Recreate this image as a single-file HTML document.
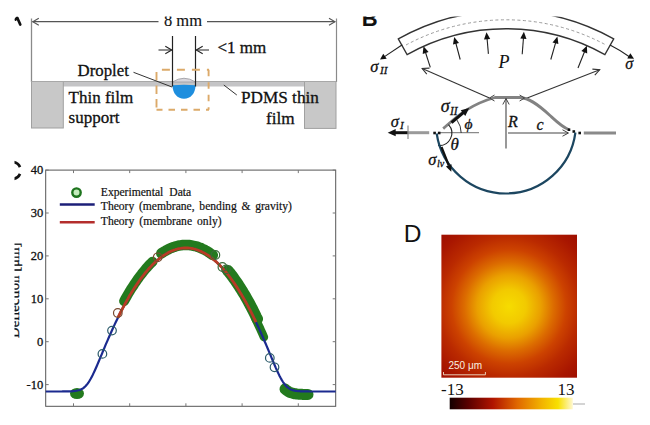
<!DOCTYPE html>
<html><head><meta charset="utf-8"><style>
html,body{margin:0;padding:0;background:#fff;}
body{width:650px;height:425px;overflow:hidden;font-family:"Liberation Serif",serif;}
svg{display:block;}
</style></head><body>
<svg width="650" height="425" viewBox="0 0 650 425">
<rect width="650" height="425" fill="#fff"/>
<path d="M15.4,19.6 L17.2,17.6 L20.3,24.6" fill="none" stroke="#111" stroke-width="2.6" stroke-linecap="round" stroke-linejoin="round"/>
<line x1="31.5" y1="18.5" x2="31.5" y2="82.0" stroke="#8a8a8a" stroke-width="1.3" />
<line x1="336.5" y1="18.5" x2="336.5" y2="82.0" stroke="#8a8a8a" stroke-width="1.2" />
<line x1="32.5" y1="21.7" x2="158.5" y2="21.7" stroke="#555" stroke-width="1.2" />
<line x1="207.0" y1="21.7" x2="335.0" y2="21.7" stroke="#555" stroke-width="1.2" />
<polyline points="38.8,18.2 32.8,21.7 38.8,25.2" fill="none" stroke="#555" stroke-width="1.1"/>
<polyline points="329.0,25.2 335.0,21.7 329.0,18.2" fill="none" stroke="#555" stroke-width="1.1"/>
<text x="183" y="25.8" font-family="'Liberation Serif', serif" font-size="16.5" text-anchor="middle" fill="#111" stroke="#111" stroke-width="0.15">8 mm</text>
<rect x="31.5" y="81.5" width="304.5" height="5" fill="#c4c4c6"/>
<rect x="31.5" y="81.5" width="31.8" height="46.5" fill="#c8c8c8" stroke="#a0a0a0" stroke-width="1"/>
<rect x="304.5" y="81.5" width="31.5" height="46.9" fill="#c8c8c8" stroke="#a0a0a0" stroke-width="1"/>
<line x1="31.5" y1="81.5" x2="336.0" y2="81.5" stroke="#a8a8a8" stroke-width="1" />
<path d="M172.5,82 Q184,74.5 195.5,82 Z" fill="#d8d6dc" stroke="#a0a0a6" stroke-width="0.9"/>
<path d="M172.5,85.3 Q184,84.3 195.5,85.3 C195.5,93.5 190.5,98.8 184,98.8 C177.5,98.8 172.5,93.5 172.5,85.3 Z" fill="#1e8ede"/>
<line x1="172.5" y1="36.0" x2="172.5" y2="86.5" stroke="#222" stroke-width="1.2" />
<line x1="195.5" y1="36.0" x2="195.5" y2="86.5" stroke="#222" stroke-width="1.2" />
<line x1="158.5" y1="50.0" x2="171.5" y2="50.0" stroke="#222" stroke-width="1.0" />
<polyline points="165.3,53.8 171.8,50.0 165.3,46.2" fill="none" stroke="#222" stroke-width="1.1"/>
<line x1="209.0" y1="50.0" x2="196.5" y2="50.0" stroke="#222" stroke-width="1.0" />
<polyline points="202.7,46.2 196.2,50.0 202.7,53.8" fill="none" stroke="#222" stroke-width="1.1"/>
<text x="217.5" y="53.2" font-family="'Liberation Serif', serif" font-size="17" fill="#111" stroke="#111" stroke-width="0.3">&lt;1 mm</text>
<line x1="156.5" y1="69.7" x2="209" y2="69.7" stroke="#dcaa6a" stroke-width="1.9" stroke-dasharray="8 7" stroke-dashoffset="9.6"/>
<line x1="208.6" y1="69.7" x2="208.6" y2="109.8" stroke="#dcaa6a" stroke-width="1.9" stroke-dasharray="6.5 6" stroke-dashoffset="0"/>
<line x1="156.5" y1="109.8" x2="209" y2="109.8" stroke="#dcaa6a" stroke-width="1.9" stroke-dasharray="6.5 6" stroke-dashoffset="0.5"/>
<line x1="156.5" y1="69.7" x2="156.5" y2="110.7" stroke="#dcaa6a" stroke-width="1.9" stroke-dasharray="8.5 5" stroke-dashoffset="11.2"/>
<line x1="133.5" y1="72.3" x2="172.0" y2="87.0" stroke="#333" stroke-width="1.0" />
<text x="77.6" y="75.8" font-family="'Liberation Serif', serif" font-size="16.8" fill="#111" stroke="#111" stroke-width="0.3">Droplet</text>
<text x="68.6" y="103.3" font-family="'Liberation Serif', serif" font-size="17" fill="#111" stroke="#111" stroke-width="0.3">Thin film</text>
<text x="68.6" y="123.3" font-family="'Liberation Serif', serif" font-size="17" fill="#111" stroke="#111" stroke-width="0.3">support</text>
<line x1="223.8" y1="85.0" x2="236.8" y2="95.0" stroke="#333" stroke-width="1.0" />
<text x="241" y="103.3" font-family="'Liberation Serif', serif" font-size="17.2" fill="#111" stroke="#111" stroke-width="0.3">PDMS thin</text>
<text x="266" y="124.3" font-family="'Liberation Serif', serif" font-size="17.2" fill="#111" stroke="#111" stroke-width="0.3">film</text>
<text x="361.8" y="26" font-family="'Liberation Sans', sans-serif" font-weight="bold" font-size="22" fill="#111">B</text>
<path d="M398.3,38.9 A220,220 0 0 1 613.7,38.9 L604.9,54.6 A202,202 0 0 0 407.1,54.6 Z" fill="none" stroke="#333" stroke-width="1.3"/>
<path d="M406.0,45.0 A211,211 0 0 1 606.0,45.0" fill="none" stroke="#9a9a9a" stroke-width="1" stroke-dasharray="3 2.5"/>
<line x1="402.3" y1="44.8" x2="383.0" y2="57.6" stroke="#222" stroke-width="1.1" />
<polygon points="380.0,59.6 383.3,53.8 386.7,58.8" fill="#111"/>
<path d="M610,45 Q620,50 630.5,57.5" fill="none" stroke="#222" stroke-width="1.1"/>
<polygon points="634.0,58.8 627.3,58.4 630.3,53.2" fill="#111"/>
<text x="370.3" y="71.9" font-family="'Liberation Serif', serif" font-style="italic" font-size="16.5" fill="#111" stroke="#111" stroke-width="0.3">σ</text>
<text x="380" y="74.4" font-family="'Liberation Serif', serif" font-style="italic" font-size="11" fill="#111" stroke="#111" stroke-width="0.3">II</text>
<text x="625.3" y="69.2" font-family="'Liberation Serif', serif" font-style="italic" font-size="16" fill="#111" stroke="#111" stroke-width="0.3">σ</text>
<line x1="430.3" y1="67.3" x2="424.9" y2="50.5" stroke="#222" stroke-width="1.1" />
<polygon points="423.5,46.3 428.6,52.0 422.7,53.9" fill="#111"/>
<line x1="460.2" y1="59.5" x2="455.4" y2="41.5" stroke="#222" stroke-width="1.1" />
<polygon points="454.2,37.0 459.0,43.0 453.0,44.6" fill="#111"/>
<line x1="488.4" y1="53.9" x2="486.9" y2="36.5" stroke="#222" stroke-width="1.1" />
<polygon points="486.5,32.2 490.2,38.9 484.0,39.4" fill="#111"/>
<line x1="522.2" y1="54.2" x2="523.6" y2="36.2" stroke="#222" stroke-width="1.1" />
<polygon points="523.9,31.7 526.5,38.9 520.3,38.4" fill="#111"/>
<line x1="550.8" y1="59.5" x2="556.1" y2="41.1" stroke="#222" stroke-width="1.1" />
<polygon points="557.4,36.5 558.4,44.1 552.5,42.4" fill="#111"/>
<line x1="578.0" y1="68.0" x2="585.1" y2="50.2" stroke="#222" stroke-width="1.1" />
<polygon points="586.9,45.8 587.2,53.5 581.4,51.1" fill="#111"/>
<text x="498.5" y="67.8" font-family="'Liberation Serif', serif" font-style="italic" font-size="18" fill="#111" stroke="#111" stroke-width="0.1">P</text>
<line x1="422.2" y1="68.5" x2="489.5" y2="98.0" stroke="#333" stroke-width="1.1" />
<polyline points="429.5,68.1 422.2,68.5 426.8,74.1" fill="none" stroke="#333" stroke-width="1.1"/>
<line x1="599.7" y1="69.8" x2="524.6" y2="99.0" stroke="#333" stroke-width="1.1" />
<polyline points="594.8,75.2 599.7,69.8 592.4,69.1" fill="none" stroke="#333" stroke-width="1.1"/>
<path d="M443.2,128.6 C455,118.5 468,105 495,97.5 L520,97.5 C528,98 536,102.5 550,115.5 C555,120.1 562,127 569,129.7" fill="none" stroke="#828282" stroke-width="2.8"/>
<polyline points="494.5,95.0 489.5,98.0 494.5,101.0" fill="none" stroke="#444" stroke-width="1"/>
<polyline points="519.6,101.0 524.6,98.0 519.6,95.0" fill="none" stroke="#444" stroke-width="1"/>
<line x1="407.7" y1="132.7" x2="429.2" y2="132.7" stroke="#9a9a9a" stroke-width="3" />
<line x1="440.0" y1="132.7" x2="479.0" y2="132.7" stroke="#8a8a8a" stroke-width="1.3" />
<line x1="583.8" y1="133.0" x2="616.0" y2="133.0" stroke="#8a8a8a" stroke-width="3" />
<rect x="433.3" y="131.7" width="2.6" height="2.6" fill="#111"/>
<rect x="437.9" y="131.7" width="2.6" height="2.6" fill="#111"/>
<rect x="567.7" y="128.4" width="2.6" height="2.6" fill="#111"/>
<rect x="572.5" y="130.2" width="2.6" height="2.6" fill="#111"/>
<rect x="578.4" y="131.7" width="2.6" height="2.6" fill="#111"/>
<line x1="407.7" y1="132.7" x2="394.0" y2="132.7" stroke="#111" stroke-width="3" />
<polygon points="387.7,132.7 395.7,129.1 395.7,136.3" fill="#111"/>
<line x1="408.0" y1="125.5" x2="408.0" y2="139.0" stroke="#777" stroke-width="1" />
<text x="390.8" y="126.8" font-family="'Liberation Serif', serif" font-style="italic" font-size="16.5" fill="#111" stroke="#111" stroke-width="0.3">σ</text>
<text x="400" y="128.5" font-family="'Liberation Serif', serif" font-style="italic" font-size="11" fill="#111" stroke="#111" stroke-width="0.3">I</text>
<line x1="451.5" y1="122.7" x2="464.0" y2="112.2" stroke="#111" stroke-width="3" />
<polygon points="469.2,108.0 465.3,115.9 460.7,110.3" fill="#111"/>
<text x="440.8" y="112" font-family="'Liberation Serif', serif" font-style="italic" font-size="18" fill="#111" stroke="#111" stroke-width="0.3">σ</text>
<text x="450" y="115" font-family="'Liberation Serif', serif" font-style="italic" font-size="11.5" fill="#111" stroke="#111" stroke-width="0.3">II</text>
<path d="M457,120.1 A 22 22 0 0 1 461.2,133" fill="none" stroke="#333" stroke-width="1"/>
<text x="464.5" y="128.5" font-family="'Liberation Serif', serif" font-style="italic" font-size="15.5" fill="#111" stroke="#111" stroke-width="0.3">ϕ</text>
<path d="M448.5,124.6 A 12.5 12.5 0 0 1 438.1,145.5" fill="none" stroke="#222" stroke-width="1.1"/>
<text x="450.5" y="150" font-family="'Liberation Serif', serif" font-style="italic" font-size="17" fill="#111" stroke="#111" stroke-width="0.3">θ</text>
<line x1="506.0" y1="98.5" x2="506.0" y2="148.4" stroke="#444" stroke-width="1.1" />
<polyline points="509.2,104.5 506.0,98.5 502.8,104.5" fill="none" stroke="#444" stroke-width="1"/>
<text x="508" y="126.5" font-family="'Liberation Serif', serif" font-style="italic" font-size="16" fill="#111" stroke="#111" stroke-width="0.3">R</text>
<line x1="508.0" y1="133.0" x2="568.0" y2="133.0" stroke="#444" stroke-width="1.1" />
<polyline points="562.5,136.2 568.5,133.0 562.5,129.8" fill="none" stroke="#444" stroke-width="1"/>
<text x="536.5" y="130" font-family="'Liberation Serif', serif" font-style="italic" font-size="16" fill="#111" stroke="#111" stroke-width="0.3">c</text>
<path d="M436.7,133.5 A70,70 0 0 0 575.4,132.5" fill="none" stroke="#1c4660" stroke-width="2.2"/>
<line x1="441.5" y1="147.0" x2="448.8" y2="165.5" stroke="#111" stroke-width="2.2" />
<polygon points="451.3,171.8 445.9,166.4 451.5,164.2" fill="#111"/>
<text x="428.3" y="165.2" font-family="'Liberation Serif', serif" font-style="italic" font-size="16.5" fill="#111" stroke="#111" stroke-width="0.3">σ</text>
<text x="437" y="167" font-family="'Liberation Serif', serif" font-style="italic" font-size="10" fill="#111" stroke="#111" stroke-width="0.3">lv</text>
<path d="M13.8,162.2 A8.4,8.4 0 0 1 20.0,167.1 M20.0,173.9 A8.4,8.4 0 0 1 13.8,178.8" fill="none" stroke="#111" stroke-width="2.7"/>
<rect x="45.7" y="170.1" width="290.0" height="236.20000000000002" fill="none" stroke="#555" stroke-width="1"/>
<line x1="45.7" y1="170.1" x2="48.7" y2="170.1" stroke="#777" stroke-width="1" />
<line x1="332.7" y1="170.1" x2="335.7" y2="170.1" stroke="#777" stroke-width="1" />
<text x="43.2" y="174.4" font-family="'Liberation Serif', serif" font-size="12.5" text-anchor="end" fill="#111" stroke="#111" stroke-width="0.3">40</text>
<line x1="45.7" y1="213.0" x2="48.7" y2="213.0" stroke="#777" stroke-width="1" />
<line x1="332.7" y1="213.0" x2="335.7" y2="213.0" stroke="#777" stroke-width="1" />
<text x="43.2" y="217.3" font-family="'Liberation Serif', serif" font-size="12.5" text-anchor="end" fill="#111" stroke="#111" stroke-width="0.3">30</text>
<line x1="45.7" y1="255.9" x2="48.7" y2="255.9" stroke="#777" stroke-width="1" />
<line x1="332.7" y1="255.9" x2="335.7" y2="255.9" stroke="#777" stroke-width="1" />
<text x="43.2" y="260.2" font-family="'Liberation Serif', serif" font-size="12.5" text-anchor="end" fill="#111" stroke="#111" stroke-width="0.3">20</text>
<line x1="45.7" y1="298.8" x2="48.7" y2="298.8" stroke="#777" stroke-width="1" />
<line x1="332.7" y1="298.8" x2="335.7" y2="298.8" stroke="#777" stroke-width="1" />
<text x="43.2" y="303.1" font-family="'Liberation Serif', serif" font-size="12.5" text-anchor="end" fill="#111" stroke="#111" stroke-width="0.3">10</text>
<line x1="45.7" y1="341.7" x2="48.7" y2="341.7" stroke="#777" stroke-width="1" />
<line x1="332.7" y1="341.7" x2="335.7" y2="341.7" stroke="#777" stroke-width="1" />
<text x="43.2" y="346.0" font-family="'Liberation Serif', serif" font-size="12.5" text-anchor="end" fill="#111" stroke="#111" stroke-width="0.3">0</text>
<line x1="45.7" y1="384.6" x2="48.7" y2="384.6" stroke="#777" stroke-width="1" />
<line x1="332.7" y1="384.6" x2="335.7" y2="384.6" stroke="#777" stroke-width="1" />
<text x="43.2" y="388.9" font-family="'Liberation Serif', serif" font-size="12.5" text-anchor="end" fill="#111" stroke="#111" stroke-width="0.3">-10</text>
<line x1="73.5" y1="406.3" x2="73.5" y2="403.3" stroke="#777" stroke-width="1" />
<line x1="73.5" y1="170.1" x2="73.5" y2="173.1" stroke="#777" stroke-width="1" />
<line x1="129.7" y1="406.3" x2="129.7" y2="403.3" stroke="#777" stroke-width="1" />
<line x1="129.7" y1="170.1" x2="129.7" y2="173.1" stroke="#777" stroke-width="1" />
<line x1="185.9" y1="406.3" x2="185.9" y2="403.3" stroke="#777" stroke-width="1" />
<line x1="185.9" y1="170.1" x2="185.9" y2="173.1" stroke="#777" stroke-width="1" />
<line x1="242.1" y1="406.3" x2="242.1" y2="403.3" stroke="#777" stroke-width="1" />
<line x1="242.1" y1="170.1" x2="242.1" y2="173.1" stroke="#777" stroke-width="1" />
<line x1="298.3" y1="406.3" x2="298.3" y2="403.3" stroke="#777" stroke-width="1" />
<line x1="298.3" y1="170.1" x2="298.3" y2="173.1" stroke="#777" stroke-width="1" />
<text transform="translate(19.3,338) rotate(-90)" font-family="'Liberation Serif', serif" font-size="14.8" fill="#111" stroke="#111" stroke-width="0.3">Deflection [μm]</text>
<circle cx="76.5" cy="192.6" r="4.2" fill="#c4ecbc" stroke="#1e741e" stroke-width="2.4"/>
<line x1="59.8" y1="204.5" x2="94.7" y2="204.5" stroke="#1c1f78" stroke-width="2.3" />
<line x1="59.8" y1="222.2" x2="94.7" y2="222.2" stroke="#b42e2c" stroke-width="2.5" />
<text x="100.8" y="196" font-family="'Liberation Serif', serif" font-size="11.6" fill="#111" stroke="#111" stroke-width="0.2" word-spacing="3.2">Experimental Data</text>
<text x="100.8" y="210" font-family="'Liberation Serif', serif" font-size="11.6" fill="#111" stroke="#111" stroke-width="0.2" word-spacing="1.8">Theory (membrane, bending &amp; gravity)</text>
<text x="100.8" y="224.5" font-family="'Liberation Serif', serif" font-size="11.6" fill="#111" stroke="#111" stroke-width="0.2" word-spacing="2.1">Theory (membrane only)</text>
<path d="M124.1,301.1 L125.1,299.3 L126.1,297.5 L127.1,295.7 L128.1,294.0 L129.1,292.3 L130.1,290.7 L131.1,289.0 L132.1,287.5 L133.2,285.9 L134.2,284.3 L135.2,282.8 L136.2,281.4 L137.2,279.9 L138.2,278.5 L139.2,277.1 L140.2,275.7 L141.3,274.4 L142.3,273.1 L143.3,271.8 L144.3,270.6 L145.3,269.4 L146.3,268.2 L147.4,267.1 L148.4,265.9 L149.4,264.8 L150.4,263.8 L151.4,262.7 L152.5,261.7" fill="none" stroke="#237a1e" stroke-width="10" stroke-linecap="round"/>
<path d="M161.3,253.4 L162.3,252.7 L163.4,252.0 L164.5,251.4 L165.5,250.8 L166.6,250.2 L167.6,249.6 L168.7,249.1 L169.8,248.6 L170.8,248.1 L171.9,247.7 L173.0,247.3 L174.1,246.9 L175.1,246.6 L176.2,246.3 L177.3,246.0 L178.4,245.7 L179.5,245.5 L180.6,245.4 L181.6,245.2 L182.7,245.1 L183.8,245.0 L184.9,245.0 L186.0,245.0 L187.1,245.0 L188.2,245.0 L189.3,245.1 L190.4,245.2 L191.5,245.4 L192.5,245.6 L193.6,245.8 L194.7,246.0 L195.8,246.3 L196.9,246.6 L198.0,247.0 L199.0,247.4 L200.1,247.8 L201.2,248.2 L202.2,248.7 L203.3,249.2 L204.4,249.7 L205.4,250.3 L206.5,250.9 L207.6,251.5 L208.6,252.2 L209.7,252.8 L210.7,253.6 L211.8,254.3 L212.8,255.1" fill="none" stroke="#237a1e" stroke-width="10.5" stroke-linecap="round"/>
<path d="M227.9,270.7 L228.9,271.9 L230.0,273.2 L231.0,274.5 L232.0,275.8 L233.0,277.2 L234.0,278.6 L235.0,280.0 L236.1,281.5 L237.1,283.0 L238.1,284.5 L239.1,286.0 L240.1,287.6 L241.1,289.2 L242.1,290.8 L243.1,292.5 L244.2,294.2 L245.2,295.9 L246.2,297.7 L247.2,299.5 L248.2,301.3 L249.2,303.1 L250.2,305.0 L251.2,306.9 L252.2,308.8 L253.2,310.8 L254.2,312.8 L255.2,314.8 L256.2,316.9 L257.3,318.9" fill="none" stroke="#237a1e" stroke-width="11.5" stroke-linecap="round"/>
<path d="M255.9,319.6 L256.9,321.7 L257.9,323.8 L258.9,326.0 L259.9,328.1 L260.9,330.4 L261.9,332.6 L262.9,334.8 L263.9,337.1" fill="none" stroke="#237a1e" stroke-width="8.5" stroke-linecap="round"/>
<path d="M285.0,389.1 L286.2,390.1 L287.4,390.9 L288.6,391.7 L289.8,392.3 L291.0,392.7 L292.2,393.1 L293.3,393.4 L294.5,393.7 L295.6,393.8 L296.7,394.0 L297.7,394.1 L298.8,394.2 L299.8,394.3 L300.9,394.3 L301.9,394.3 L302.9,394.4 L303.9,394.4 L305.0,394.4 L306.0,394.4 L307.0,394.4 L308.0,394.4" fill="none" stroke="#237a1e" stroke-width="11" stroke-linecap="round"/>
<ellipse cx="77" cy="393.5" rx="7" ry="5.6" fill="#237a1e"/>
<path d="M45.7,391.5 L46.7,391.5 L47.7,391.5 L48.7,391.5 L49.7,391.5 L50.7,391.5 L51.7,391.5 L52.7,391.5 L53.7,391.5 L54.7,391.5 L55.7,391.5 L56.7,391.5 L57.7,391.5 L58.7,391.5 L59.7,391.5 L60.7,391.5 L61.7,391.5 L62.7,391.4 L63.7,391.4 L64.7,391.4 L65.7,391.4 L66.7,391.4 L67.7,391.4 L68.7,391.4 L69.7,391.3 L70.7,391.3 L71.7,391.3 L72.7,391.2 L73.7,391.1 L74.7,391.0 L75.7,390.9 L76.7,390.7 L77.7,390.5 L78.7,390.3 L79.7,390.0 L80.7,389.6 L81.7,389.1 L82.7,388.5 L83.7,387.8 L84.7,386.9 L85.7,386.0 L86.7,384.8 L87.7,383.6 L88.7,382.1 L89.7,380.5 L90.7,378.8 L91.7,376.9 L92.7,375.0 L93.7,372.9 L94.7,370.7 L95.7,368.5 L96.7,366.2 L97.7,363.8 L98.7,361.5 L99.7,359.1 L100.7,356.7 L101.7,354.3 L102.7,351.9 L103.7,349.5 L104.7,347.1 L105.7,344.7 L106.7,342.4 L107.7,340.1 L108.7,337.8 L109.7,335.5 L110.7,333.2 L111.7,331.0 L112.7,328.8 L113.7,326.6 L114.7,324.4 L115.7,322.3 L116.7,320.2 L117.7,318.2 L118.7,316.1 L119.7,314.1 L120.7,312.1 L121.7,310.2 L122.7,308.3 L123.7,306.4 L124.7,304.5 L125.7,302.7 L126.7,300.9 L127.7,299.1 L128.7,297.4 L129.7,295.7 L130.7,294.0 L131.7,292.3 L132.7,290.7 L133.7,289.1 L134.7,287.5 L135.7,286.0 L136.7,284.5 L137.7,283.0 L138.7,281.6 L139.7,280.2 L140.7,278.8 L141.7,277.5 L142.7,276.1 L143.7,274.9 L144.7,273.6 L145.7,272.4 L146.7,271.2 L147.7,270.0 L148.7,268.9 L149.7,267.8 L150.7,266.7 L151.7,265.6 L152.7,264.6 L153.7,263.6 L154.7,262.7 L155.7,261.7 L156.7,260.8 L157.7,260.0 L158.7,259.1 L159.7,258.3 L160.7,257.6 L161.7,256.8 L162.7,256.1 L163.7,255.4 L164.7,254.8 L165.7,254.1 L166.7,253.5 L167.7,253.0 L168.7,252.4 L169.7,251.9 L170.7,251.5 L171.7,251.0 L172.7,250.6 L173.7,250.2 L174.7,249.9 L175.7,249.5 L176.7,249.2 L177.7,249.0 L178.7,248.7 L179.7,248.5 L180.7,248.4 L181.7,248.2 L182.7,248.1 L183.7,248.0 L184.7,248.0 L185.7,248.0 L186.7,248.0 L187.7,248.0 L188.7,248.1 L189.7,248.2 L190.7,248.3 L191.7,248.5 L192.7,248.7 L193.7,248.9 L194.7,249.1 L195.7,249.4 L196.7,249.7 L197.7,250.1 L198.7,250.4 L199.7,250.8 L200.7,251.3 L201.7,251.7 L202.7,252.2 L203.7,252.7 L204.7,253.3 L205.7,253.9 L206.7,254.5 L207.7,255.1 L208.7,255.8 L209.7,256.5 L210.7,257.3 L211.7,258.0 L212.7,258.8 L213.7,259.6 L214.7,260.5 L215.7,261.4 L216.7,262.3 L217.7,263.2 L218.7,264.2 L219.7,265.2 L220.7,266.3 L221.7,267.3 L222.7,268.4 L223.7,269.5 L224.7,270.7 L225.7,271.9 L226.7,273.1 L227.7,274.3 L228.7,275.6 L229.7,276.9 L230.7,278.3 L231.7,279.6 L232.7,281.0 L233.7,282.5 L234.7,283.9 L235.7,285.4 L236.7,286.9 L237.7,288.5 L238.7,290.1 L239.7,291.7 L240.7,293.3 L241.7,295.0 L242.7,296.7 L243.7,298.4 L244.7,300.2 L245.7,302.0 L246.7,303.8 L247.7,305.6 L248.7,307.5 L249.7,309.4 L250.7,311.3 L251.7,313.3 L252.7,315.3 L253.7,317.3 L254.7,319.4 L255.7,321.5 L256.7,323.6 L257.7,325.7 L258.7,327.9 L259.7,330.1 L260.7,332.3 L261.7,334.6 L262.7,336.8 L263.7,339.1 L264.7,341.5 L265.7,343.8 L266.7,346.2 L267.7,348.5 L268.7,350.9 L269.7,353.3 L270.7,355.7 L271.7,358.1 L272.7,360.5 L273.7,362.9 L274.7,365.2 L275.7,367.6 L276.7,369.8 L277.7,372.0 L278.7,374.1 L279.7,376.2 L280.7,378.1 L281.7,379.9 L282.7,381.5 L283.7,383.0 L284.7,384.3 L285.7,385.5 L286.7,386.6 L287.7,387.5 L288.7,388.2 L289.7,388.9 L290.7,389.4 L291.7,389.8 L292.7,390.2 L293.7,390.4 L294.7,390.7 L295.7,390.8 L296.7,391.0 L297.7,391.1 L298.7,391.2 L299.7,391.2 L300.7,391.3 L301.7,391.3 L302.7,391.4 L303.7,391.4 L304.7,391.4 L305.7,391.4 L306.7,391.4 L307.7,391.4 L308.7,391.4 L309.7,391.5 L310.7,391.5 L311.7,391.5 L312.7,391.5 L313.7,391.5 L314.7,391.5 L315.7,391.5 L316.7,391.5 L317.7,391.5 L318.7,391.5 L319.7,391.5 L320.7,391.5 L321.7,391.5 L322.7,391.5 L323.7,391.5 L324.7,391.5 L325.7,391.5 L326.7,391.5 L327.7,391.5 L328.7,391.5 L329.7,391.5 L330.7,391.5 L331.7,391.5 L332.7,391.5 L333.7,391.5 L334.7,391.5 L335.7,391.5" fill="none" stroke="#1b2a8f" stroke-width="2.2"/>
<path d="M118.0,317.5 L119.0,315.5 L120.0,313.5 L121.0,311.5 L122.0,309.6 L123.0,307.7 L124.0,305.8 L125.0,304.0 L126.0,302.1 L127.0,300.3 L128.0,298.6 L129.0,296.8 L130.0,295.1 L131.0,293.5 L132.0,291.8 L133.0,290.2 L134.0,288.6 L135.0,287.1 L136.0,285.6 L137.0,284.1 L138.0,282.6 L139.0,281.2 L140.0,279.8 L141.0,278.4 L142.0,277.1 L143.0,275.8 L144.0,274.5 L145.0,273.2 L146.0,272.0 L147.0,270.8 L148.0,269.7 L149.0,268.5 L150.0,267.4 L151.0,266.4 L152.0,265.3 L153.0,264.3 L154.0,263.3 L155.0,262.4 L156.0,261.5 L157.0,260.6 L158.0,259.7 L159.0,258.9 L160.0,258.1 L161.0,257.3 L162.0,256.6 L163.0,255.9 L164.0,255.2 L165.0,254.6 L166.0,253.9 L167.0,253.4 L168.0,252.8 L169.0,252.3 L170.0,251.8 L171.0,251.3 L172.0,250.9 L173.0,250.5 L174.0,250.1 L175.0,249.8 L176.0,249.4 L177.0,249.2 L178.0,248.9 L179.0,248.7 L180.0,248.5 L181.0,248.3 L182.0,248.2 L183.0,248.1 L184.0,248.0 L185.0,248.0 L186.0,248.0 L187.0,248.0 L188.0,248.0 L189.0,248.1 L190.0,248.2 L191.0,248.4 L192.0,248.5 L193.0,248.7 L194.0,249.0 L195.0,249.2 L196.0,249.5 L197.0,249.8 L198.0,250.2 L199.0,250.6 L200.0,251.0 L201.0,251.4 L202.0,251.9 L203.0,252.4 L204.0,252.9 L205.0,253.5 L206.0,254.1 L207.0,254.7 L208.0,255.3 L209.0,256.0 L210.0,256.7 L211.0,257.5 L212.0,258.2 L213.0,259.1 L214.0,259.9 L215.0,260.8 L216.0,261.6 L217.0,262.6 L218.0,263.5 L219.0,264.5 L220.0,265.5 L221.0,266.6 L222.0,267.6 L223.0,268.7 L224.0,269.9 L225.0,271.0 L226.0,272.2 L227.0,273.5 L228.0,274.7 L229.0,276.0 L230.0,277.3 L231.0,278.7 L232.0,280.1 L233.0,281.5 L234.0,282.9 L235.0,284.4 L236.0,285.9 L237.0,287.4 L238.0,288.9 L239.0,290.5 L240.0,292.2 L241.0,293.8 L242.0,295.5 L243.0,297.2 L244.0,298.9 L245.0,300.7 L246.0,302.5 L247.0,304.3 L248.0,306.2 L249.0,308.1 L250.0,310.0 L251.0,311.9 L252.0,313.9 L253.0,315.9 L254.0,318.0 L255.0,320.0 L256.0,322.1" fill="none" stroke="#b83c24" stroke-width="2.8"/>
<circle cx="102.4" cy="353.9" r="4.3" fill="none" stroke="#2b5a6a" stroke-width="1.2"/>
<circle cx="112" cy="330.6" r="4.3" fill="none" stroke="#2b5a6a" stroke-width="1.2"/>
<circle cx="117.8" cy="313" r="4.3" fill="none" stroke="#7a4a30" stroke-width="1.2"/>
<circle cx="157.7" cy="257.3" r="4.3" fill="none" stroke="#7a4a30" stroke-width="1.2"/>
<circle cx="215.4" cy="255" r="4.3" fill="none" stroke="#3a6a3a" stroke-width="1.2"/>
<circle cx="222.4" cy="267" r="4.3" fill="none" stroke="#3a6a3a" stroke-width="1.2"/>
<circle cx="226" cy="269.4" r="4.3" fill="none" stroke="#3a6a3a" stroke-width="1.2"/>
<circle cx="269.8" cy="357.9" r="4.3" fill="none" stroke="#2b5a6a" stroke-width="1.2"/>
<circle cx="274.5" cy="367.3" r="4.3" fill="none" stroke="#2b5a6a" stroke-width="1.2"/>
<text x="403.8" y="241.8" font-family="'Liberation Sans', sans-serif" font-size="24.5" fill="#111">D</text>
<defs><radialGradient id="hm" gradientUnits="userSpaceOnUse" cx="509" cy="306.5" r="106"><stop offset="0" stop-color="#f6dc00"/><stop offset="0.16" stop-color="#f2ca00"/><stop offset="0.3" stop-color="#eaa000"/><stop offset="0.42" stop-color="#dc6c00"/><stop offset="0.54" stop-color="#cc4200"/><stop offset="0.66" stop-color="#ba2a00"/><stop offset="0.82" stop-color="#a81600"/><stop offset="1" stop-color="#980a00"/></radialGradient><linearGradient id="cb" x1="0" x2="1" y1="0" y2="0"><stop offset="0" stop-color="#140000"/><stop offset="0.15" stop-color="#5a0000"/><stop offset="0.35" stop-color="#b01400"/><stop offset="0.55" stop-color="#e06800"/><stop offset="0.75" stop-color="#f2b400"/><stop offset="0.88" stop-color="#f8e000"/><stop offset="1" stop-color="#fff8d0"/></linearGradient></defs>
<rect x="441.4" y="234.7" width="135.6" height="143" fill="url(#hm)"/>
<text x="448.5" y="368.5" font-family="'Liberation Sans', sans-serif" font-size="10" fill="#f8f0e0">250 μm</text>
<path d="M443.5,372 L443.5,374.8 L485.4,374.8 L485.4,372" fill="none" stroke="#f0e0c8" stroke-width="0.9"/>
<text x="441" y="394.5" font-family="'Liberation Serif', serif" font-size="17" fill="#111">-13</text>
<text x="557.5" y="394.5" font-family="'Liberation Serif', serif" font-size="17" fill="#111">13</text>
<rect x="449.7" y="397.7" width="123.1" height="11.6" fill="url(#cb)"/>
<line x1="573.0" y1="404.0" x2="585.0" y2="404.0" stroke="#d4d4d4" stroke-width="2" />
<rect x="0" y="0" width="650" height="16.5" fill="#fff"/>
<rect x="0" y="0" width="14.5" height="425" fill="#fff"/>
</svg>
</body></html>
